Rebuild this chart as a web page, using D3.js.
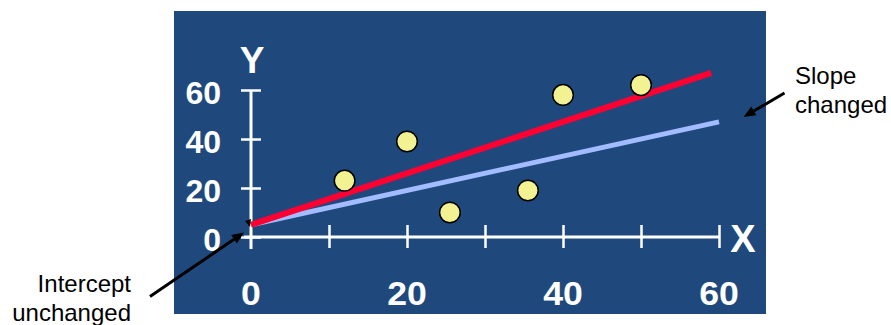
<!DOCTYPE html>
<html>
<head>
<meta charset="utf-8">
<script src="https://cdn.jsdelivr.net/npm/d3@7"></script>
<style>
  html, body { margin: 0; padding: 0; background: #ffffff; }
  svg { display: block; font-family: "Liberation Sans", Arial, Helvetica, sans-serif; }
</style>
</head>
<body>
<svg id="chart" width="891" height="325"></svg>
<script>
// Observed points
const pointX = [12, 20, 25.5, 35.5, 40, 50];
const pointY = [23, 39, 10, 19, 58, 62];

// Two fitted lines sharing one intercept, different slopes
const lineNames = ["original", "changed"];
const lineIntercepts = [5, 5];
const lineSlopes = [0.70, 1.05];
const lineEndX = [60, 59];
const lineColors = ["#a3bcff", "#ff0033"];

// Axis ticks and labels
const xTicks = [0, 10, 20, 30, 40, 50, 60];
const xTickLabels = [0, 20, 40, 60];
const yTicks = [0, 20, 40, 60];

const svg = d3.select("#chart");

// Panel background
svg.append("rect")
  .attr("x", 174).attr("y", 11)
  .attr("width", 592).attr("height", 303)
  .attr("fill", "#1f497d");

const x = d3.scaleLinear().domain([0, 60]).range([251, 719]);
const y = d3.scaleLinear().domain([0, 60]).range([237, 90]);

const white = "#ffffff";

// X axis: line, ticks both sides of the line
const xAxisG = svg.append("g").attr("transform", `translate(0,${y(0)})`);
xAxisG.call(d3.axisBottom(x).tickValues(xTicks.slice(1)).tickSize(11).tickFormat(""));
xAxisG.append("g").call(d3.axisTop(x).tickValues(xTicks.slice(1)).tickSize(12).tickFormat(""));
xAxisG.selectAll(".domain").remove();
xAxisG.selectAll("line").attr("stroke", white).attr("stroke-width", 2.5);
xAxisG.append("line")
  .attr("x1", x(0) - 7).attr("x2", x(60))
  .attr("stroke", white).attr("stroke-width", 3);

// X tick labels (every other tick)
svg.append("g").selectAll("text")
  .data(xTickLabels)
  .join("text")
  .attr("transform", d => `translate(${x(d)},305) scale(1.08,1)`)
  .attr("text-anchor", "middle")
  .attr("fill", white)
  .attr("font-weight", "bold")
  .attr("font-size", 33)
  .text(d => d);

// Y axis: line, ticks both sides
const yAxisG = svg.append("g").attr("transform", `translate(${x(0)},0)`);
yAxisG.call(d3.axisLeft(y).tickValues(yTicks).tickSize(10).tickPadding(20).tickFormat(d => d));
yAxisG.append("g").call(d3.axisRight(y).tickValues(yTicks).tickSize(10).tickFormat(""));
yAxisG.selectAll(".domain").remove();
yAxisG.selectAll("line").attr("stroke", white).attr("stroke-width", 2.5);
yAxisG.selectAll("text")
  .attr("fill", white)
  .attr("font-weight", "bold")
  .attr("font-size", 32)
  .attr("font-family", "'Liberation Sans', Arial, sans-serif")
  .attr("dy", null)
  .attr("y", 13);
yAxisG.append("line")
  .attr("y1", y(60)).attr("y2", y(0) + 12)
  .attr("stroke", white).attr("stroke-width", 3);

// Axis names
svg.append("text")
  .attr("x", x(0) + 1).attr("y", 73)
  .attr("text-anchor", "middle")
  .attr("fill", white).attr("font-weight", "bold").attr("font-size", 37)
  .text("Y");
svg.append("text")
  .attr("x", 743).attr("y", 252)
  .attr("text-anchor", "middle")
  .attr("fill", white).attr("font-weight", "bold").attr("font-size", 38)
  .text("X");

// Fitted lines
svg.append("g").selectAll("line")
  .data(lineNames.map((n, i) => ({ n, a: lineIntercepts[i], b: lineSlopes[i], e: lineEndX[i], c: lineColors[i] })))
  .join("line")
  .attr("x1", x(0)).attr("y1", d => y(d.a))
  .attr("x2", d => x(d.e)).attr("y2", d => y(d.a + d.b * d.e))
  .attr("stroke", d => d.c)
  .attr("stroke-width", (d, i) => i === 1 ? 6 : 5);

// Data points
svg.append("g").selectAll("circle")
  .data(pointX.map((v, i) => [v, pointY[i]]))
  .join("circle")
  .attr("cx", d => x(d[0]))
  .attr("cy", d => y(d[1]))
  .attr("r", 10.3)
  .attr("fill", "#f2f292")
  .attr("stroke", "#000000")
  .attr("stroke-width", 1.5);

// Annotation arrows
function arrow(x1, y1, x2, y2) {
  const ang = Math.atan2(y2 - y1, x2 - x1);
  const L = 12, W = 5;
  const bx = x2 - L * Math.cos(ang), by = y2 - L * Math.sin(ang);
  svg.append("line")
    .attr("x1", x1).attr("y1", y1).attr("x2", bx).attr("y2", by)
    .attr("stroke", "#000").attr("stroke-width", 3);
  const px = -Math.sin(ang) * W, py = Math.cos(ang) * W;
  svg.append("path")
    .attr("d", `M${x2},${y2}L${bx + px},${by + py}L${bx - px},${by - py}Z`)
    .attr("fill", "#000");
}
arrow(150, 296.5, 244, 232.5);
arrow(784.5, 93, 743.5, 117);

// Small arrowhead at the intercept
svg.append("path")
  .attr("d", "M245,221L251,219L250,227Z")
  .attr("fill", "#000");

// Annotation text
const notes = svg.append("g")
  .attr("fill", "#000")
  .attr("font-size", 24);
notes.append("text").attr("x", 131).attr("y", 292).attr("text-anchor", "end").text("Intercept");
notes.append("text").attr("x", 131).attr("y", 321).attr("text-anchor", "end").text("unchanged");
notes.append("text").attr("x", 795).attr("y", 84).text("Slope");
notes.append("text").attr("x", 795).attr("y", 113).text("changed");
</script>
</body>
</html>
